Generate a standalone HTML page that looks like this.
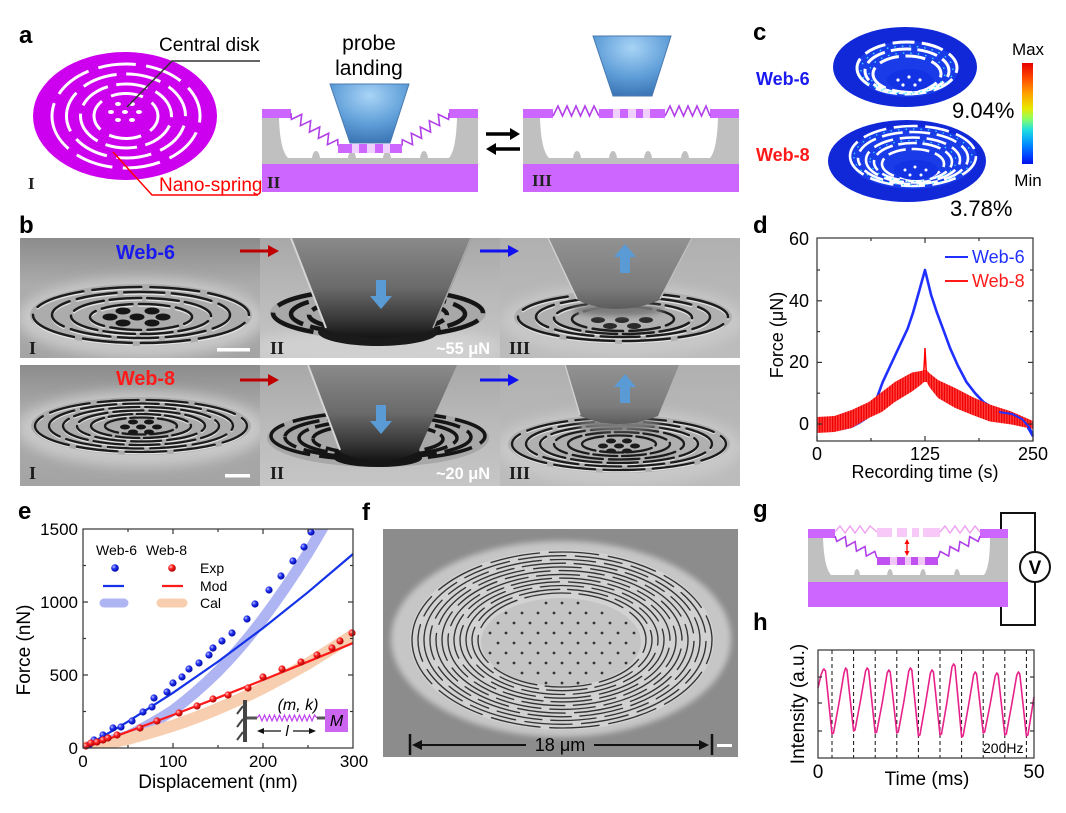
<!DOCTYPE html>
<html><head><meta charset="utf-8">
<style>
html,body{margin:0;padding:0;background:#fff;}
svg{display:block;}
text{font-family:"Liberation Sans",Arial,sans-serif;}
.lbl{font-weight:bold;font-size:24px;fill:#000;}
.ser{font-family:"Liberation Serif","Times New Roman",serif;font-weight:bold;}
</style></head><body>
<svg width="1066" height="813" viewBox="0 0 1066 813" xmlns="http://www.w3.org/2000/svg">
<defs>
 <radialGradient id="pg" cx="0.5" cy="0.2" r="0.8">
  <stop offset="0" stop-color="#a8d4f6"/><stop offset="0.6" stop-color="#5f9ed8"/><stop offset="1" stop-color="#3c76b6"/>
 </radialGradient>
 <linearGradient id="jet" x1="0" y1="0" x2="0" y2="1">
  <stop offset="0" stop-color="#e80000"/><stop offset="0.15" stop-color="#ff4a00"/><stop offset="0.3" stop-color="#ffa000"/>
  <stop offset="0.45" stop-color="#e8e800"/><stop offset="0.55" stop-color="#90ff60"/><stop offset="0.66" stop-color="#20e0e0"/>
  <stop offset="0.8" stop-color="#0090ff"/><stop offset="0.92" stop-color="#0040ff"/><stop offset="1" stop-color="#0010e8"/>
 </linearGradient>
 <linearGradient id="semA" x1="0" y1="0" x2="0" y2="1">
  <stop offset="0" stop-color="#8c8c8c"/><stop offset="0.4" stop-color="#acacac"/><stop offset="1" stop-color="#a4a4a4"/>
 </linearGradient>
 <linearGradient id="semB" x1="0" y1="0" x2="0" y2="1">
  <stop offset="0" stop-color="#a8a8a8"/><stop offset="0.5" stop-color="#bababa"/><stop offset="1" stop-color="#c6c6c6"/>
 </linearGradient>
 <linearGradient id="semC" x1="0" y1="0" x2="0" y2="1">
  <stop offset="0" stop-color="#b0b0b0"/><stop offset="0.5" stop-color="#b8b8b8"/><stop offset="1" stop-color="#bcbcbc"/>
 </linearGradient>
 <linearGradient id="prD" x1="0" y1="0" x2="0" y2="1">
  <stop offset="0" stop-color="#8a8a8a"/><stop offset="0.5" stop-color="#6a6a6a"/><stop offset="0.8" stop-color="#3a3a3a"/><stop offset="1" stop-color="#141414"/>
 </linearGradient>
 <linearGradient id="prL" x1="0" y1="0" x2="0" y2="1">
  <stop offset="0" stop-color="#929292"/><stop offset="0.7" stop-color="#7c7c7c"/><stop offset="1" stop-color="#5c5c5c"/>
 </linearGradient>
 <radialGradient id="bb" cx="0.35" cy="0.35" r="0.7">
  <stop offset="0" stop-color="#c8c8ff"/><stop offset="0.4" stop-color="#2030f0"/><stop offset="1" stop-color="#0008a0"/>
 </radialGradient>
 <radialGradient id="rb" cx="0.35" cy="0.35" r="0.7">
  <stop offset="0" stop-color="#ffd0d0"/><stop offset="0.4" stop-color="#ff2020"/><stop offset="1" stop-color="#a00000"/>
 </radialGradient>
 <pattern id="rn" width="2.6" height="4" patternUnits="userSpaceOnUse">
  <rect width="2.6" height="4" fill="#ff4040"/><rect width="1.3" height="4" fill="#ee0000"/>
 </pattern>
 <filter id="bl3" x="-20%" y="-50%" width="140%" height="200%"><feGaussianBlur stdDeviation="3"/></filter>
 <filter id="bl6" x="-20%" y="-50%" width="140%" height="200%"><feGaussianBlur stdDeviation="6"/></filter>
 <clipPath id="cb1"><rect x="20" y="238" width="240" height="120"/></clipPath>
 <clipPath id="cb2"><rect x="260" y="238" width="240" height="120"/></clipPath>
 <clipPath id="cb3"><rect x="500" y="238" width="240" height="120"/></clipPath>
 <clipPath id="cb4"><rect x="20" y="365" width="240" height="121"/></clipPath>
 <clipPath id="cb5"><rect x="260" y="365" width="240" height="121"/></clipPath>
 <clipPath id="cb6"><rect x="500" y="365" width="240" height="121"/></clipPath>
 <clipPath id="cf"><rect x="383" y="529" width="355" height="228"/></clipPath>
 <clipPath id="ce"><rect x="83" y="529" width="270" height="219"/></clipPath>
</defs>

<!-- ===== Panel a ===== -->
<text x="19" y="43" class="lbl">a</text>
<ellipse cx="125" cy="116" rx="92" ry="64" fill="#cc00ee"/>
<g fill="none" stroke="#fff" stroke-width="3">
 <path pathLength="100" stroke-dasharray="9.5 2.6" d="M52,116a74,52 0 1 0 148,0a74,52 0 1 0 -148,0"/>
 <path pathLength="100" stroke-dasharray="11 3" stroke-dashoffset="6" d="M66.5,116a59.5,42 0 1 0 119,0a59.5,42 0 1 0 -119,0"/>
 <path pathLength="100" stroke-dasharray="13 3.5" d="M80.5,116a45.5,32 0 1 0 91,0a45.5,32 0 1 0 -91,0"/>
 <path pathLength="100" stroke-dasharray="19 6" stroke-dashoffset="10" d="M94,116a32,22.5 0 1 0 64,0a32,22.5 0 1 0 -64,0"/>
</g>
<g fill="#fff">
 <ellipse cx="111" cy="112" rx="3" ry="2"/><ellipse cx="125" cy="112" rx="3" ry="2"/><ellipse cx="139" cy="112" rx="3" ry="2"/>
 <ellipse cx="118" cy="120" rx="3" ry="2"/><ellipse cx="132" cy="120" rx="3" ry="2"/>
 <ellipse cx="118" cy="104" rx="3" ry="2"/><ellipse cx="132" cy="104" rx="3" ry="2"/>
</g>
<polyline points="260,61 172,61 127,107" fill="none" stroke="#333" stroke-width="1.5"/>
<text x="159" y="51" font-size="19">Central disk</text>
<polyline points="113,152 152,195 258,195" fill="none" stroke="#ff0000" stroke-width="1.5"/>
<text x="159" y="191" font-size="19" fill="#ff0000">Nano-spring</text>
<text x="28" y="189" class="ser" font-size="17" fill="#222">I</text>

<!-- box II -->
<rect x="262" y="118" width="216" height="46" fill="#c0c0c0"/>
<path d="M279,118 Q280,150 288,158 L449,158 Q456,150 457,118 Z" fill="#fff"/>
<g fill="#c0c0c0">
 <path d="M312,158 Q313,151 316,151 Q319,151 320,158Z"/><path d="M348,158 Q349,151 352,151 Q355,151 356,158Z"/>
 <path d="M383,158 Q384,151 387,151 Q390,151 391,158Z"/><path d="M420,158 Q421,151 424,151 Q427,151 428,158Z"/>
</g>
<rect x="262" y="164" width="216" height="28" fill="#cc66ff"/>
<rect x="262" y="109" width="29" height="9" fill="#cc66ff"/>
<rect x="449" y="109" width="29" height="9" fill="#cc66ff"/>
<polyline points="291,113 291.4,119.4 301.7,114.4 300.4,125.7 310.7,120.7 309.4,132.1 319.7,127 318.4,138.4 328.7,133.3 327.4,144.7 337.7,139.7 338,146" fill="none" stroke="#b040e8" stroke-width="1.6"/>
<polyline points="449,113 448.6,119.4 438.3,114.4 439.6,125.7 429.3,120.7 430.6,132.1 420.3,127 421.6,138.4 411.3,133.3 412.6,144.7 402.3,139.7 402,146" fill="none" stroke="#b040e8" stroke-width="1.6"/>
<rect x="338" y="144" width="64" height="9" fill="#cc66ff"/>
<g fill="#f0d0ff"><rect x="352" y="144" width="7" height="9"/><rect x="367" y="144" width="8" height="9"/><rect x="383" y="144" width="7" height="9"/></g>
<polygon points="330,84 409,84 390,143 350,143" fill="url(#pg)" stroke="#4a7ab0" stroke-width="1"/>
<text x="369" y="50" font-size="21" text-anchor="middle">probe</text>
<text x="369" y="75" font-size="21" text-anchor="middle">landing</text>
<text x="267" y="188" class="ser" font-size="17" fill="#222">II</text>

<!-- arrows -->
<line x1="486" y1="134" x2="512" y2="134" stroke="#000" stroke-width="3.5"/>
<polygon points="520,134 510,128 510,140" fill="#000"/>
<line x1="494" y1="149" x2="520" y2="149" stroke="#000" stroke-width="3.5"/>
<polygon points="486,149 496,143 496,155" fill="#000"/>

<!-- box III -->
<rect x="523" y="118" width="216" height="46" fill="#c0c0c0"/>
<path d="M540,118 Q541,150 549,158 L710,158 Q717,150 718,118 Z" fill="#fff"/>
<g fill="#c0c0c0">
 <path d="M573,158 Q574,151 577,151 Q580,151 581,158Z"/><path d="M609,158 Q610,151 613,151 Q616,151 617,158Z"/>
 <path d="M644,158 Q645,151 648,151 Q651,151 652,158Z"/><path d="M681,158 Q682,151 685,151 Q688,151 689,158Z"/>
</g>
<rect x="523" y="164" width="216" height="28" fill="#cc66ff"/>
<rect x="523" y="109" width="30" height="9" fill="#cc66ff"/>
<rect x="710" y="109" width="29" height="9" fill="#cc66ff"/>
<polyline points="553,116 558,106 562.5,116 567,106 571.5,116 576,106 580.5,116 585,106 589.5,116 594,106 599,116" fill="none" stroke="#b040e8" stroke-width="1.6"/>
<polyline points="665,116 670,106 674.5,116 679,106 683.5,116 688,106 692.5,116 697,106 701.5,116 706,106 710,116" fill="none" stroke="#b040e8" stroke-width="1.6"/>
<rect x="599" y="109" width="66" height="9" fill="#cc66ff"/>
<g fill="#f0d0ff"><rect x="613" y="109" width="7" height="9"/><rect x="628" y="109" width="8" height="9"/><rect x="643" y="109" width="7" height="9"/></g>
<polygon points="593,36 671,36 652,96 613,96" fill="url(#pg)" stroke="#4a7ab0" stroke-width="1"/>
<text x="532" y="186" class="ser" font-size="17" fill="#222">III</text>

<!-- ===== Panel b ===== -->
<text x="19" y="233" class="lbl">b</text>
<!-- col I top -->
<g clip-path="url(#cb1)">
 <rect x="20" y="238" width="240" height="120" fill="url(#semA)"/>
 <ellipse cx="141" cy="318" rx="124" ry="40" fill="#c8c8c8" filter="url(#bl6)"/>
 <ellipse cx="141" cy="315" rx="111" ry="31" fill="#acacac"/>
 <g fill="none" stroke-linecap="round">
  <g stroke="#e2e2e2" stroke-width="1.8" transform="translate(0,1.8)">
   <path pathLength="100" stroke-dasharray="10.5 2" d="M33,315a108,28 0 1 0 216,0a108,28 0 1 0 -216,0"/>
   <path pathLength="100" stroke-dasharray="10.5 2" stroke-dashoffset="6" d="M52,315a89,23 0 1 0 178,0a89,23 0 1 0 -178,0"/>
   <path pathLength="100" stroke-dasharray="10.5 2" d="M71,316a70,18 0 1 0 140,0a70,18 0 1 0 -140,0"/>
   <path pathLength="100" stroke-dasharray="14 3" stroke-dashoffset="6" d="M90,317a51,13 0 1 0 102,0a51,13 0 1 0 -102,0"/>
  </g>
  <g stroke="#1c1c1c" stroke-width="2.5">
   <path pathLength="100" stroke-dasharray="10.5 2" d="M33,315a108,28 0 1 0 216,0a108,28 0 1 0 -216,0"/>
   <path pathLength="100" stroke-dasharray="10.5 2" stroke-dashoffset="6" d="M52,315a89,23 0 1 0 178,0a89,23 0 1 0 -178,0"/>
   <path pathLength="100" stroke-dasharray="10.5 2" d="M71,316a70,18 0 1 0 140,0a70,18 0 1 0 -140,0"/>
   <path pathLength="100" stroke-dasharray="14 3" stroke-dashoffset="6" d="M90,317a51,13 0 1 0 102,0a51,13 0 1 0 -102,0"/>
  </g>
 </g>
 <g fill="#161616">
  <ellipse cx="137" cy="317" rx="7.5" ry="3.5"/><ellipse cx="110" cy="317" rx="7.5" ry="3.5"/><ellipse cx="163" cy="317" rx="7.5" ry="3.5"/>
  <ellipse cx="123" cy="311" rx="7.5" ry="3.5"/><ellipse cx="152" cy="311" rx="7.5" ry="3.5"/><ellipse cx="123" cy="323" rx="7.5" ry="3.5"/><ellipse cx="152" cy="323" rx="7.5" ry="3.5"/>
 </g>
</g>
<!-- col II top -->
<g clip-path="url(#cb2)">
 <rect x="260" y="238" width="240" height="120" fill="url(#semB)"/>
 <ellipse cx="378" cy="348" rx="125" ry="20" fill="#d0d0d0" filter="url(#bl6)"/>
 <ellipse cx="378" cy="313" rx="108" ry="27" fill="#a8a8a8"/>
 <g fill="none" stroke="#151515" stroke-width="4.5">
  <path pathLength="100" stroke-dasharray="10.5 2" d="M273,313a105,24 0 1 0 210,0a105,24 0 1 0 -210,0"/>
  <path pathLength="100" stroke-dasharray="10.5 2" stroke-dashoffset="6" d="M291,314a87,20 0 1 0 174,0a87,20 0 1 0 -174,0"/>
  <path pathLength="100" stroke-dasharray="10.5 2" d="M309,315a69,16 0 1 0 138,0a69,16 0 1 0 -138,0"/>
 </g>
 <ellipse cx="378" cy="332" rx="60" ry="14" fill="#1a1a1a"/>
 <path d="M290,238 L472,238 L433,330 Q380,346 326,330 Z" fill="url(#prD)"/>
 <line x1="291" y1="238" x2="326" y2="328" stroke="#d4d4d4" stroke-width="2"/>
 <line x1="471" y1="238" x2="433" y2="328" stroke="#a8a8a8" stroke-width="1.5"/>
</g>
<!-- col III top -->
<g clip-path="url(#cb3)">
 <rect x="500" y="238" width="240" height="120" fill="url(#semC)"/>
 <ellipse cx="623" cy="321" rx="122" ry="36" fill="#c8c8c8" filter="url(#bl6)"/>
 <ellipse cx="623" cy="317" rx="109" ry="27" fill="#b0b0b0"/>
 <g fill="none" stroke-linecap="round">
  <g stroke="#e2e2e2" stroke-width="1.8" transform="translate(0,1.8)">
   <path pathLength="100" stroke-dasharray="10.5 2" d="M518,317a105,24 0 1 0 210,0a105,24 0 1 0 -210,0"/>
   <path pathLength="100" stroke-dasharray="10.5 2" stroke-dashoffset="6" d="M536,317a87,20 0 1 0 174,0a87,20 0 1 0 -174,0"/>
   <path pathLength="100" stroke-dasharray="10.5 2" d="M554,318a69,16 0 1 0 138,0a69,16 0 1 0 -138,0"/>
  </g>
  <g stroke="#1c1c1c" stroke-width="2.5">
   <path pathLength="100" stroke-dasharray="10.5 2" d="M518,317a105,24 0 1 0 210,0a105,24 0 1 0 -210,0"/>
   <path pathLength="100" stroke-dasharray="10.5 2" stroke-dashoffset="6" d="M536,317a87,20 0 1 0 174,0a87,20 0 1 0 -174,0"/>
   <path pathLength="100" stroke-dasharray="10.5 2" d="M554,318a69,16 0 1 0 138,0a69,16 0 1 0 -138,0"/>
   <path pathLength="100" stroke-dasharray="14 3" stroke-dashoffset="6" d="M572,319a51,12 0 1 0 102,0a51,12 0 1 0 -102,0"/>
  </g>
 </g>
 <g fill="#2a2a2a">
  <ellipse cx="622" cy="320" rx="7" ry="3"/><ellipse cx="598" cy="320" rx="7" ry="3"/><ellipse cx="646" cy="320" rx="7" ry="3"/>
  <ellipse cx="610" cy="326" rx="7" ry="3"/><ellipse cx="634" cy="326" rx="7" ry="3"/>
 </g>
 <ellipse cx="618" cy="310" rx="46" ry="6" fill="#7a7a7a" filter="url(#bl3)"/>
 <path d="M547,238 L693,238 L660,300 Q617,318 577,300 Z" fill="url(#prL)"/>
 <line x1="548" y1="238" x2="577" y2="299" stroke="#d0d0d0" stroke-width="1.5"/>
 <line x1="692" y1="238" x2="660" y2="299" stroke="#c0c0c0" stroke-width="1.5"/>
</g>
<!-- col I bottom -->
<g clip-path="url(#cb4)">
 <rect x="20" y="365" width="240" height="121" fill="url(#semA)"/>
 <ellipse cx="141" cy="429" rx="124" ry="38" fill="#c8c8c8" filter="url(#bl6)"/>
 <ellipse cx="141" cy="426" rx="110" ry="29" fill="#acacac"/>
 <g fill="none" stroke-linecap="round">
  <g stroke="#e2e2e2" stroke-width="1.6" transform="translate(0,1.6)">
   <path pathLength="100" stroke-dasharray="9 1.8" d="M35,426a106,26 0 1 0 212,0a106,26 0 1 0 -212,0"/>
   <path pathLength="100" stroke-dasharray="9 1.8" stroke-dashoffset="5" d="M49,426a92,22.5 0 1 0 184,0a92,22.5 0 1 0 -184,0"/>
   <path pathLength="100" stroke-dasharray="9 1.8" d="M63,426a78,19 0 1 0 156,0a78,19 0 1 0 -156,0"/>
   <path pathLength="100" stroke-dasharray="11 2.2" stroke-dashoffset="5" d="M77,426a64,15.5 0 1 0 128,0a64,15.5 0 1 0 -128,0"/>
   <path pathLength="100" stroke-dasharray="11 2.2" d="M91,426a50,12 0 1 0 100,0a50,12 0 1 0 -100,0"/>
  </g>
  <g stroke="#1c1c1c" stroke-width="2.3">
   <path pathLength="100" stroke-dasharray="9 1.8" d="M35,426a106,26 0 1 0 212,0a106,26 0 1 0 -212,0"/>
   <path pathLength="100" stroke-dasharray="9 1.8" stroke-dashoffset="5" d="M49,426a92,22.5 0 1 0 184,0a92,22.5 0 1 0 -184,0"/>
   <path pathLength="100" stroke-dasharray="9 1.8" d="M63,426a78,19 0 1 0 156,0a78,19 0 1 0 -156,0"/>
   <path pathLength="100" stroke-dasharray="11 2.2" stroke-dashoffset="5" d="M77,426a64,15.5 0 1 0 128,0a64,15.5 0 1 0 -128,0"/>
   <path pathLength="100" stroke-dasharray="11 2.2" d="M91,426a50,12 0 1 0 100,0a50,12 0 1 0 -100,0"/>
   <path pathLength="100" stroke-dasharray="15 3" stroke-dashoffset="5" d="M105,426a36,8.5 0 1 0 72,0a36,8.5 0 1 0 -72,0"/>
  </g>
 </g>
 <g fill="#161616">
  <ellipse cx="141" cy="427" rx="5" ry="2.5"/><ellipse cx="125" cy="427" rx="5" ry="2.5"/><ellipse cx="157" cy="427" rx="5" ry="2.5"/>
  <ellipse cx="133" cy="422" rx="5" ry="2.5"/><ellipse cx="149" cy="422" rx="5" ry="2.5"/><ellipse cx="133" cy="432" rx="5" ry="2.5"/><ellipse cx="149" cy="432" rx="5" ry="2.5"/>
 </g>
</g>
<!-- col II bottom -->
<g clip-path="url(#cb5)">
 <rect x="260" y="365" width="240" height="121" fill="url(#semB)"/>
 <ellipse cx="378" cy="438" rx="111" ry="29" fill="#a8a8a8"/>
 <g fill="none" stroke="#151515" stroke-width="3.5">
  <path pathLength="100" stroke-dasharray="10 2" d="M271,436a107,24 0 1 0 214,0a107,24 0 1 0 -214,0"/>
  <path pathLength="100" stroke-dasharray="10 2" stroke-dashoffset="6" d="M285,437a93,21 0 1 0 186,0a93,21 0 1 0 -186,0"/>
  <path pathLength="100" stroke-dasharray="10 2" d="M299,438a79,18 0 1 0 158,0a79,18 0 1 0 -158,0"/>
  <path pathLength="100" stroke-dasharray="10 2" stroke-dashoffset="6" d="M313,439a65,15 0 1 0 130,0a65,15 0 1 0 -130,0"/>
 </g>
 <ellipse cx="378" cy="458" rx="44" ry="9" fill="#151515"/>
 <path d="M307,365 L457,365 L418,452 Q378,470 340,452 Z" fill="url(#prD)"/>
 <line x1="308" y1="365" x2="340" y2="450" stroke="#d4d4d4" stroke-width="2"/>
</g>
<!-- col III bottom -->
<g clip-path="url(#cb6)">
 <rect x="500" y="365" width="240" height="121" fill="url(#semC)"/>
 <ellipse cx="619" cy="448" rx="124" ry="38" fill="#c8c8c8" filter="url(#bl6)"/>
 <ellipse cx="619" cy="444" rx="111" ry="29" fill="#b0b0b0"/>
 <g fill="none" stroke-linecap="round">
  <g stroke="#e2e2e2" stroke-width="1.6" transform="translate(0,1.6)">
   <path pathLength="100" stroke-dasharray="9 1.8" d="M512,444a107,26 0 1 0 214,0a107,26 0 1 0 -214,0"/>
   <path pathLength="100" stroke-dasharray="9 1.8" stroke-dashoffset="5" d="M526,444a93,22.5 0 1 0 186,0a93,22.5 0 1 0 -186,0"/>
   <path pathLength="100" stroke-dasharray="9 1.8" d="M540,444a79,19 0 1 0 158,0a79,19 0 1 0 -158,0"/>
  </g>
  <g stroke="#1c1c1c" stroke-width="2.3">
   <path pathLength="100" stroke-dasharray="9 1.8" d="M512,444a107,26 0 1 0 214,0a107,26 0 1 0 -214,0"/>
   <path pathLength="100" stroke-dasharray="9 1.8" stroke-dashoffset="5" d="M526,444a93,22.5 0 1 0 186,0a93,22.5 0 1 0 -186,0"/>
   <path pathLength="100" stroke-dasharray="9 1.8" d="M540,444a79,19 0 1 0 158,0a79,19 0 1 0 -158,0"/>
   <path pathLength="100" stroke-dasharray="11 2.2" stroke-dashoffset="5" d="M554,444a65,15.5 0 1 0 130,0a65,15.5 0 1 0 -130,0"/>
   <path pathLength="100" stroke-dasharray="11 2.2" d="M568,444a51,12 0 1 0 102,0a51,12 0 1 0 -102,0"/>
   <path pathLength="100" stroke-dasharray="15 3" stroke-dashoffset="5" d="M582,444a37,8.5 0 1 0 74,0a37,8.5 0 1 0 -74,0"/>
  </g>
 </g>
 <g fill="#1c1c1c">
  <ellipse cx="619" cy="446" rx="5" ry="2.5"/><ellipse cx="603" cy="446" rx="5" ry="2.5"/><ellipse cx="635" cy="446" rx="5" ry="2.5"/>
  <ellipse cx="611" cy="441" rx="5" ry="2.5"/><ellipse cx="627" cy="441" rx="5" ry="2.5"/><ellipse cx="611" cy="451" rx="5" ry="2.5"/><ellipse cx="627" cy="451" rx="5" ry="2.5"/>
 </g>
 <ellipse cx="619" cy="425" rx="42" ry="6" fill="#7a7a7a" filter="url(#bl3)"/>
 <path d="M564,365 L679,365 L658,416 Q619,432 580,416 Z" fill="url(#prL)"/>
 <line x1="565" y1="365" x2="580" y2="415" stroke="#d0d0d0" stroke-width="1.5"/>
</g>
<!-- b overlays -->
<text x="116" y="259" font-size="20" font-weight="bold" fill="#1a1af0" textLength="59" lengthAdjust="spacingAndGlyphs">Web-6</text>
<text x="116" y="385" font-size="20" font-weight="bold" fill="#ff1a1a" textLength="59" lengthAdjust="spacingAndGlyphs">Web-8</text>
<g stroke-width="3">
 <line x1="240" y1="251" x2="270" y2="251" stroke="#c00000"/><polygon points="279,251 268,245 268,257" fill="#c00000"/>
 <line x1="240" y1="380" x2="270" y2="380" stroke="#c00000"/><polygon points="279,380 268,374 268,386" fill="#c00000"/>
 <line x1="480" y1="251" x2="510" y2="251" stroke="#1010f0"/><polygon points="519,251 508,245 508,257" fill="#1010f0"/>
 <line x1="480" y1="380" x2="510" y2="380" stroke="#1010f0"/><polygon points="519,380 508,374 508,386" fill="#1010f0"/>
</g>
<g fill="#5b9bd5">
 <polygon points="376,280 386,280 386,296 392,296 381,309 370,296 376,296"/>
 <polygon points="376,405 386,405 386,421 392,421 381,434 370,421 376,421"/>
 <polygon points="620,273 630,273 630,257 636,257 625,244 614,257 620,257"/>
 <polygon points="620,403 630,403 630,387 636,387 625,374 614,387 620,387"/>
</g>
<text x="29" y="354" class="ser" font-size="18" fill="#1a1a1a">I</text>
<text x="270" y="354" class="ser" font-size="18" fill="#1a1a1a">II</text>
<text x="509" y="354" class="ser" font-size="18" fill="#1a1a1a">III</text>
<text x="29" y="479" class="ser" font-size="18" fill="#1a1a1a">I</text>
<text x="270" y="479" class="ser" font-size="18" fill="#1a1a1a">II</text>
<text x="509" y="479" class="ser" font-size="18" fill="#1a1a1a">III</text>
<text x="436" y="354" font-size="17" font-weight="bold" fill="#fff" textLength="54" lengthAdjust="spacingAndGlyphs">~55 μN</text>
<text x="436" y="479" font-size="17" font-weight="bold" fill="#fff" textLength="54" lengthAdjust="spacingAndGlyphs">~20 μN</text>
<rect x="217" y="348" width="33" height="3.5" fill="#fff"/>
<rect x="225" y="474" width="25" height="3.5" fill="#fff"/>

<!-- ===== Panel c ===== -->
<text x="753" y="40" class="lbl">c</text>
<text x="756" y="85" font-size="18" font-weight="bold" fill="#1a1af0">Web-6</text>
<text x="756" y="161" font-size="18" font-weight="bold" fill="#ff1a1a">Web-8</text>
<ellipse cx="905" cy="67" rx="72" ry="40" fill="#1028d8"/>
<ellipse cx="907" cy="69" rx="51" ry="28" fill="#1a3ce8"/>
<g fill="none" stroke="#fff" stroke-width="3">
 <path pathLength="100" stroke-dasharray="9 3" d="M857,68a50,26 0 1 0 100,0a50,26 0 1 0 -100,0"/>
 <path pathLength="100" stroke-dasharray="10 3" stroke-dashoffset="5" d="M865,71a42,22 0 1 0 84,0a42,22 0 1 0 -84,0"/>
 <path pathLength="100" stroke-dasharray="12 4" d="M873,74a34,18 0 1 0 68,0a34,18 0 1 0 -68,0"/>
</g>
<g fill="none" stroke="#40e0ff" stroke-width="1.3" stroke-dasharray="1.5 6">
 <path d="M861,70a46,24 0 1 0 92,0a46,24 0 1 0 -92,0"/>
 <path d="M869,73a38,20 0 1 0 76,0a38,20 0 1 0 -76,0"/>
</g>
<ellipse cx="910" cy="80" rx="23" ry="11" fill="#1232e4"/>
<g fill="#fff"><circle cx="898" cy="80" r="1.6"/><circle cx="909" cy="77" r="1.6"/><circle cx="920" cy="80" r="1.6"/><circle cx="903" cy="85" r="1.6"/><circle cx="915" cy="85" r="1.6"/></g>
<ellipse cx="907" cy="161" rx="79" ry="41" fill="#1028d8"/>
<ellipse cx="913" cy="158" rx="64" ry="31" fill="#1a3ce8"/>
<g fill="none" stroke="#fff" stroke-width="2.6">
 <path pathLength="100" stroke-dasharray="8 2.5" d="M850,156a63,30 0 1 0 126,0a63,30 0 1 0 -126,0"/>
 <path pathLength="100" stroke-dasharray="8 2.5" stroke-dashoffset="5" d="M858,158a55,26 0 1 0 110,0a55,26 0 1 0 -110,0"/>
 <path pathLength="100" stroke-dasharray="9 3" d="M866,160a47,22.5 0 1 0 94,0a47,22.5 0 1 0 -94,0"/>
 <path pathLength="100" stroke-dasharray="10 3" stroke-dashoffset="5" d="M874,162a39,19 0 1 0 78,0a39,19 0 1 0 -78,0"/>
 <path pathLength="100" stroke-dasharray="12 4" d="M882,164a31,15 0 1 0 62,0a31,15 0 1 0 -62,0"/>
</g>
<g fill="none" stroke="#40e0ff" stroke-width="1.2" stroke-dasharray="1.5 6">
 <path d="M854,157a59,28 0 1 0 118,0a59,28 0 1 0 -118,0"/>
 <path d="M870,161a43,20.5 0 1 0 86,0a43,20.5 0 1 0 -86,0"/>
</g>
<ellipse cx="916" cy="170" rx="22" ry="10" fill="#1232e4"/>
<g fill="#fff"><circle cx="905" cy="170" r="1.5"/><circle cx="915" cy="167" r="1.5"/><circle cx="926" cy="170" r="1.5"/><circle cx="910" cy="175" r="1.5"/><circle cx="921" cy="175" r="1.5"/></g>
<rect x="1022" y="63" width="11" height="101" fill="url(#jet)"/>
<text x="1028" y="55" font-size="17" text-anchor="middle">Max</text>
<text x="1028" y="186" font-size="17" text-anchor="middle">Min</text>
<text x="952" y="118" font-size="22">9.04%</text>
<text x="950" y="216" font-size="22">3.78%</text>

<!-- ===== Panel d ===== -->
<text x="753" y="233" class="lbl">d</text>
<path d="M817,418 L830,419 L843,416 L852,414 L860,412 L869,405 L869,418 L860,424 L852,428 L843,430 L830,431 L817,432 Z" fill="#3040ff" opacity="0.8"/>
<path d="M817,424 L825.6,422.5 L834.3,423 L842.9,421.5 L851.6,420.3 L860.2,417.8 L868.8,411.7 L872.3,407 L877.5,396.3 L882.7,382.1 L890.4,365.5 L899.9,345.2 L907.7,328.5 L912.9,313.1 L919,291.6 L925,270 L931,294.6 L937.1,313.1 L944,331.6 L950.1,348.2 L957.8,365.5 L966.5,382.1 L975.1,393.2 L983.8,402.4 L994.1,408.6 L1007.1,413.2 L1017.4,419.4 L1025.2,422.5 L1029.5,430.2 L1033,436.3" fill="none" stroke="#2030ff" stroke-width="2.6" stroke-linejoin="round"/>
<polygon points="817,417 834.3,416 851.6,410 868.8,402 881.8,392 894.8,382 912,372.5 920.7,371 924.1,370 926.7,370 929.3,373 938,380 955.2,388 972.5,397 989.8,404.5 1011.4,411.5 1033,421 1033,429 1011.4,424.5 989.8,421.5 972.5,415 955.2,408 938,398 929.3,387 926.7,382 924.1,382 920.7,385 912,391.5 894.8,402 881.8,412 868.8,418 851.6,428 834.3,432 817,433" fill="url(#rn)"/>
<path d="M999,412 L1012,414 L1022,419 L1029,427 L1033,434" fill="none" stroke="#2030ff" stroke-width="2"/>
<polyline points="923.5,376 924.6,358 925,348 925.6,360 926.5,376" fill="none" stroke="#ff0000" stroke-width="1.5"/>
<rect x="817" y="238" width="216" height="203" fill="none" stroke="#333" stroke-width="1.2"/>
<g stroke="#333" stroke-width="1.2">
 <line x1="817" y1="441" x2="817" y2="436"/><line x1="925" y1="441" x2="925" y2="436"/><line x1="1033" y1="441" x2="1033" y2="436"/>
 <line x1="871" y1="441" x2="871" y2="438"/><line x1="979" y1="441" x2="979" y2="438"/>
 <line x1="925" y1="238" x2="925" y2="243"/><line x1="871" y1="238" x2="871" y2="241"/><line x1="979" y1="238" x2="979" y2="241"/>
 <line x1="817" y1="424" x2="822" y2="424"/><line x1="817" y1="362.4" x2="822" y2="362.4"/><line x1="817" y1="300.8" x2="822" y2="300.8"/>
 <line x1="817" y1="393.2" x2="820" y2="393.2"/><line x1="817" y1="331.6" x2="820" y2="331.6"/><line x1="817" y1="270" x2="820" y2="270"/>
 <line x1="1033" y1="424" x2="1028" y2="424"/><line x1="1033" y1="362.4" x2="1028" y2="362.4"/><line x1="1033" y1="300.8" x2="1028" y2="300.8"/>
 <line x1="1033" y1="393.2" x2="1030" y2="393.2"/><line x1="1033" y1="331.6" x2="1030" y2="331.6"/><line x1="1033" y1="270" x2="1030" y2="270"/>
</g>
<g font-size="18">
 <text x="817" y="460" text-anchor="middle">0</text><text x="925" y="460" text-anchor="middle">125</text><text x="1033" y="460" text-anchor="middle">250</text>
 <text x="809" y="245" text-anchor="end">60</text><text x="809" y="307" text-anchor="end">40</text><text x="809" y="368" text-anchor="end">20</text><text x="809" y="430" text-anchor="end">0</text>
</g>
<text x="925" y="478" font-size="18" text-anchor="middle">Recording time (s)</text>
<text transform="translate(783,335) rotate(-90)" font-size="18" text-anchor="middle">Force (μN)</text>
<line x1="945" y1="257" x2="968" y2="257" stroke="#2030ff" stroke-width="2"/>
<text x="972" y="263" font-size="18" fill="#2030ff">Web-6</text>
<line x1="945" y1="281" x2="968" y2="281" stroke="#ff1a1a" stroke-width="2"/>
<text x="972" y="287" font-size="18" fill="#ff1a1a">Web-8</text>

<!-- ===== Panel e ===== -->
<text x="18" y="519" class="lbl">e</text>
<g clip-path="url(#ce)" fill="none" stroke-linecap="round">
 <path d="M83,748 Q105,742 128,736 Q150,725 173,710.4 Q196,693 218,671.3 Q241,648 263,618.8 Q286,588 308,552.8 Q320,533 333,510" stroke="#afb4f3" stroke-width="11"/>
 <path d="M83,748 Q105,744 128,738.8 Q150,733 173,725.7 Q196,718 218,708.7 Q241,699 263,688 Q286,676 308,663.5 Q330,650 353,635" stroke="#f7cfb0" stroke-width="12"/>
 <path d="M85,747 L128,721.6 L173,692.8 L218,661.6 L263,628.1 L308,592.2 L353,554" stroke="#1432e6" stroke-width="2.2"/>
 <path d="M84,748 L128,731.7 L173,715 L218,697.7 L263,680 L308,661.7 L353,643" stroke="#ff1a1a" stroke-width="2.2"/>
</g>
<g fill="url(#bb)">
 <circle cx="89" cy="745" r="3.6"/><circle cx="94" cy="740" r="3.6"/><circle cx="103" cy="735" r="3.6"/><circle cx="113" cy="728" r="3.6"/><circle cx="121" cy="727" r="3.6"/>
 <circle cx="132" cy="721" r="3.6"/><circle cx="143" cy="712" r="3.6"/><circle cx="152" cy="707" r="3.6"/><circle cx="154" cy="698" r="3.6"/><circle cx="167" cy="692" r="3.6"/>
 <circle cx="173" cy="683" r="3.6"/><circle cx="182" cy="677" r="3.6"/><circle cx="189" cy="669" r="3.6"/><circle cx="199" cy="663" r="3.6"/><circle cx="209" cy="655" r="3.6"/>
 <circle cx="213" cy="648" r="3.6"/><circle cx="222" cy="641" r="3.6"/><circle cx="232" cy="633" r="3.6"/><circle cx="247" cy="619" r="3.6"/><circle cx="255" cy="604" r="3.6"/>
 <circle cx="269" cy="590" r="3.6"/><circle cx="281" cy="576" r="3.6"/><circle cx="293" cy="561" r="3.6"/><circle cx="304" cy="547" r="3.6"/><circle cx="311" cy="532" r="3.6"/>
</g>
<g fill="url(#rb)">
 <circle cx="86" cy="746" r="3.6"/><circle cx="91" cy="743" r="3.6"/><circle cx="97" cy="742" r="3.6"/><circle cx="103" cy="740" r="3.6"/><circle cx="108" cy="738" r="3.6"/>
 <circle cx="117" cy="735" r="3.6"/><circle cx="140" cy="728" r="3.6"/><circle cx="157" cy="721" r="3.6"/><circle cx="179" cy="713" r="3.6"/><circle cx="197" cy="706" r="3.6"/>
 <circle cx="213" cy="699" r="3.6"/><circle cx="228" cy="695" r="3.6"/><circle cx="248" cy="688" r="3.6"/><circle cx="263" cy="677" r="3.6"/><circle cx="282" cy="669" r="3.6"/>
 <circle cx="301" cy="662" r="3.6"/><circle cx="317" cy="655" r="3.6"/><circle cx="332" cy="648" r="3.6"/><circle cx="340" cy="641" r="3.6"/><circle cx="352" cy="633" r="3.6"/>
</g>
<rect x="83" y="529" width="270" height="219" fill="none" stroke="#333" stroke-width="1.2"/>
<g stroke="#333" stroke-width="1.2">
 <line x1="173" y1="748" x2="173" y2="743"/><line x1="263" y1="748" x2="263" y2="743"/>
 <line x1="128" y1="748" x2="128" y2="745"/><line x1="218" y1="748" x2="218" y2="745"/><line x1="308" y1="748" x2="308" y2="745"/>
 <line x1="173" y1="529" x2="173" y2="534"/><line x1="263" y1="529" x2="263" y2="534"/>
 <line x1="128" y1="529" x2="128" y2="532"/><line x1="218" y1="529" x2="218" y2="532"/><line x1="308" y1="529" x2="308" y2="532"/>
 <line x1="83" y1="675" x2="88" y2="675"/><line x1="83" y1="602" x2="88" y2="602"/>
 <line x1="83" y1="711.5" x2="86" y2="711.5"/><line x1="83" y1="638.5" x2="86" y2="638.5"/><line x1="83" y1="565.5" x2="86" y2="565.5"/>
 <line x1="353" y1="675" x2="348" y2="675"/><line x1="353" y1="602" x2="348" y2="602"/>
 <line x1="353" y1="711.5" x2="350" y2="711.5"/><line x1="353" y1="638.5" x2="350" y2="638.5"/><line x1="353" y1="565.5" x2="350" y2="565.5"/>
</g>
<g font-size="17">
 <text x="78" y="535" text-anchor="end">1500</text><text x="78" y="608" text-anchor="end">1000</text><text x="78" y="681" text-anchor="end">500</text><text x="78" y="754" text-anchor="end">0</text>
 <text x="83" y="767" text-anchor="middle">0</text><text x="173" y="767" text-anchor="middle">100</text><text x="263" y="767" text-anchor="middle">200</text><text x="354" y="767" text-anchor="middle">300</text>
</g>
<text x="218" y="788" font-size="19" text-anchor="middle">Displacement (nm)</text>
<text transform="translate(30,650) rotate(-90)" font-size="19" text-anchor="middle">Force (nN)</text>
<g font-size="14">
 <text x="96" y="555">Web-6</text><text x="146" y="555">Web-8</text>
 <text x="200" y="573">Exp</text><text x="200" y="591">Mod</text><text x="200" y="608">Cal</text>
</g>
<circle cx="115" cy="568" r="3.8" fill="url(#bb)"/><circle cx="172" cy="568" r="3.8" fill="url(#rb)"/>
<line x1="103" y1="586" x2="124" y2="586" stroke="#1432e6" stroke-width="2.2"/>
<line x1="162" y1="586" x2="183" y2="586" stroke="#ff1a1a" stroke-width="2.2"/>
<line x1="104" y1="603" x2="124" y2="603" stroke="#afb4f3" stroke-width="9" stroke-linecap="round"/>
<line x1="161" y1="603" x2="183" y2="603" stroke="#f7cfb0" stroke-width="9" stroke-linecap="round"/>
<!-- inset -->
<line x1="245" y1="700" x2="245" y2="742" stroke="#444" stroke-width="4"/>
<g stroke="#444" stroke-width="2"><line x1="243" y1="706" x2="237" y2="714"/><line x1="243" y1="719" x2="237" y2="727"/><line x1="243" y1="732" x2="237" y2="740"/></g>
<line x1="247" y1="718" x2="257" y2="718" stroke="#555" stroke-width="3"/>
<polyline points="257,718 259.5,715 262,721 264.5,715 267,721 269.5,715 272,721 274.5,715 277,721 279.5,715 282,721 284.5,715 287,721 289.5,715 292,721 294.5,715 297,721 299.5,715 302,721 304.5,715 307,721 309.5,715 312,721 314.5,715 317,718" fill="none" stroke="#c040f0" stroke-width="1.2"/>
<line x1="317" y1="718" x2="325" y2="718" stroke="#555" stroke-width="3"/>
<rect x="325" y="709" width="23" height="23" fill="#cc66f0"/>
<text x="336.5" y="726" font-size="16" font-style="italic" text-anchor="middle" font-family="Liberation Serif, serif">M</text>
<text x="298" y="710" font-size="16" font-style="italic" text-anchor="middle" font-family="Liberation Serif, serif">(m, k)</text>
<line x1="262" y1="731" x2="281" y2="731" stroke="#111" stroke-width="1.3"/><polygon points="257,731 264,728 264,734" fill="#111"/>
<text x="287" y="736" font-size="15" font-style="italic" text-anchor="middle" font-family="Liberation Serif, serif">l</text>
<line x1="293" y1="731" x2="311" y2="731" stroke="#111" stroke-width="1.3"/><polygon points="316,731 309,728 309,734" fill="#111"/>

<!-- ===== Panel f ===== -->
<text x="362" y="520" class="lbl">f</text>
<g clip-path="url(#cf)">
 <rect x="383" y="529" width="355" height="228" fill="#8c8c8c"/>
 <ellipse cx="561" cy="639" rx="170" ry="98" fill="#c6c6c6" filter="url(#bl3)"/>
 <ellipse cx="562" cy="640" rx="152" ry="90" fill="#d2d2d2"/>
 <g fill="none" stroke="#333" stroke-width="1.35" stroke-linecap="round">
  <path pathLength="100" stroke-dasharray="6.5 1.3" d="M412,640a150,88 0 1 0 300,0a150,88 0 1 0 -300,0"/>
  <path pathLength="100" stroke-dasharray="6.5 1.3" stroke-dashoffset="3.5" d="M418,640a144,84.3 0 1 0 288,0a144,84.3 0 1 0 -288,0"/>
  <path pathLength="100" stroke-dasharray="6.5 1.3" d="M424,640a138,80.5 0 1 0 276,0a138,80.5 0 1 0 -276,0"/>
  <path pathLength="100" stroke-dasharray="6.5 1.3" stroke-dashoffset="3.5" d="M430,640a132,76.8 0 1 0 264,0a132,76.8 0 1 0 -264,0"/>
  <path pathLength="100" stroke-dasharray="7.5 1.5" d="M436,640a126,73.1 0 1 0 252,0a126,73.1 0 1 0 -252,0"/>
  <path pathLength="100" stroke-dasharray="7.5 1.5" stroke-dashoffset="4" d="M442,640a120,69.4 0 1 0 240,0a120,69.4 0 1 0 -240,0"/>
  <path pathLength="100" stroke-dasharray="7.5 1.5" d="M448,640a114,65.6 0 1 0 228,0a114,65.6 0 1 0 -228,0"/>
  <path pathLength="100" stroke-dasharray="7.5 1.5" stroke-dashoffset="4" d="M454,640a108,61.9 0 1 0 216,0a108,61.9 0 1 0 -216,0"/>
  <path pathLength="100" stroke-dasharray="9 1.8" d="M460,640a102,58.2 0 1 0 204,0a102,58.2 0 1 0 -204,0"/>
  <path pathLength="100" stroke-dasharray="9 1.8" stroke-dashoffset="5" d="M466,640a96,54.5 0 1 0 192,0a96,54.5 0 1 0 -192,0"/>
  <path pathLength="100" stroke-dasharray="9 1.8" d="M472,640a90,50.7 0 1 0 180,0a90,50.7 0 1 0 -180,0"/>
  <path pathLength="100" stroke-dasharray="11 2" stroke-dashoffset="5" d="M478,640a84,47 0 1 0 168,0a84,47 0 1 0 -168,0"/>
 </g>
 <ellipse cx="561" cy="642" rx="80" ry="44" fill="#c4c4c4"/>
 <g fill="#333">
  <circle cx="546" cy="603" r="1.4"/><circle cx="562" cy="603" r="1.4"/><circle cx="578" cy="603" r="1.4"/>
  <circle cx="506" cy="613" r="1.4"/><circle cx="522" cy="613" r="1.4"/><circle cx="538" cy="613" r="1.4"/><circle cx="554" cy="613" r="1.4"/><circle cx="570" cy="613" r="1.4"/><circle cx="586" cy="613" r="1.4"/><circle cx="602" cy="613" r="1.4"/>
  <circle cx="498" cy="623" r="1.4"/><circle cx="514" cy="623" r="1.4"/><circle cx="530" cy="623" r="1.4"/><circle cx="546" cy="623" r="1.4"/><circle cx="562" cy="623" r="1.4"/><circle cx="578" cy="623" r="1.4"/><circle cx="594" cy="623" r="1.4"/><circle cx="610" cy="623" r="1.4"/><circle cx="626" cy="623" r="1.4"/>
  <circle cx="490" cy="633" r="1.4"/><circle cx="506" cy="633" r="1.4"/><circle cx="522" cy="633" r="1.4"/><circle cx="538" cy="633" r="1.4"/><circle cx="554" cy="633" r="1.4"/><circle cx="570" cy="633" r="1.4"/><circle cx="586" cy="633" r="1.4"/><circle cx="602" cy="633" r="1.4"/><circle cx="618" cy="633" r="1.4"/><circle cx="634" cy="633" r="1.4"/>
  <circle cx="498" cy="643" r="1.4"/><circle cx="514" cy="643" r="1.4"/><circle cx="530" cy="643" r="1.4"/><circle cx="546" cy="643" r="1.4"/><circle cx="562" cy="643" r="1.4"/><circle cx="578" cy="643" r="1.4"/><circle cx="594" cy="643" r="1.4"/><circle cx="610" cy="643" r="1.4"/><circle cx="626" cy="643" r="1.4"/>
  <circle cx="490" cy="653" r="1.4"/><circle cx="506" cy="653" r="1.4"/><circle cx="522" cy="653" r="1.4"/><circle cx="538" cy="653" r="1.4"/><circle cx="554" cy="653" r="1.4"/><circle cx="570" cy="653" r="1.4"/><circle cx="586" cy="653" r="1.4"/><circle cx="602" cy="653" r="1.4"/><circle cx="618" cy="653" r="1.4"/><circle cx="634" cy="653" r="1.4"/>
  <circle cx="498" cy="663" r="1.4"/><circle cx="514" cy="663" r="1.4"/><circle cx="530" cy="663" r="1.4"/><circle cx="546" cy="663" r="1.4"/><circle cx="562" cy="663" r="1.4"/><circle cx="578" cy="663" r="1.4"/><circle cx="594" cy="663" r="1.4"/><circle cx="610" cy="663" r="1.4"/><circle cx="626" cy="663" r="1.4"/>
  <circle cx="522" cy="673" r="1.4"/><circle cx="538" cy="673" r="1.4"/><circle cx="554" cy="673" r="1.4"/><circle cx="570" cy="673" r="1.4"/><circle cx="586" cy="673" r="1.4"/><circle cx="602" cy="673" r="1.4"/>
  <circle cx="546" cy="683" r="1.4"/><circle cx="562" cy="683" r="1.4"/><circle cx="578" cy="683" r="1.4"/>
 </g>
 <line x1="416" y1="745" x2="526" y2="745" stroke="#111" stroke-width="2"/><polygon points="412,745 422,740 422,750" fill="#111"/>
 <line x1="594" y1="745" x2="704" y2="745" stroke="#111" stroke-width="2"/><polygon points="709,745 699,740 699,750" fill="#111"/>
 <line x1="410" y1="734" x2="410" y2="755" stroke="#111" stroke-width="2.5"/>
 <line x1="712" y1="734" x2="712" y2="755" stroke="#111" stroke-width="2.5"/>
 <text x="560" y="751" font-size="18" text-anchor="middle">18 μm</text>
 <rect x="717" y="744" width="15" height="3" fill="#fff"/>
</g>

<!-- ===== Panel g ===== -->
<text x="753" y="517" class="lbl">g</text>
<rect x="808" y="538" width="200" height="44" fill="#c0c0c0"/>
<path d="M823,538 Q824,567 831,575 L984,575 Q990,567 990,538 Z" fill="#fff"/>
<g fill="#c0c0c0">
 <path d="M854,575 Q855,569 857,569 Q859,569 860,575Z"/><path d="M887,575 Q888,569 890,569 Q892,569 893,575Z"/>
 <path d="M920,575 Q921,569 923,569 Q925,569 926,575Z"/><path d="M954,575 Q955,569 957,569 Q959,569 960,575Z"/>
</g>
<rect x="808" y="582" width="200" height="25" fill="#cc66ff"/>
<rect x="808" y="529" width="27" height="9" fill="#cc66ff"/>
<rect x="980" y="529" width="28" height="9" fill="#cc66ff"/>
<polyline points="835,532 840,526 845,533 850,526 855,533 860,526 865,533 870,526 877,532" fill="none" stroke="#f0a0f0" stroke-width="1.4"/>
<polyline points="940,532 945,526 950,533 955,526 960,533 965,526 970,533 975,526 980,532" fill="none" stroke="#f0a0f0" stroke-width="1.4"/>
<g fill="#f8c8f8"><rect x="877" y="528" width="15" height="9"/><rect x="897" y="528" width="10" height="9"/><rect x="912" y="528" width="7" height="9"/><rect x="923" y="528" width="17" height="9"/></g>
<polyline points="835,536 836.8,541.4 845.3,536.7 846.6,546.3 855.1,541.6 856.5,551.2 865,546.5 866.3,556.1 874.8,551.4 877,558" fill="none" stroke="#b040e8" stroke-width="1.6"/>
<polyline points="980,536 978.2,541.4 969.7,536.7 968.4,546.3 959.9,541.6 958.5,551.2 950,546.5 948.7,556.1 940.2,551.4 938,558" fill="none" stroke="#b040e8" stroke-width="1.6"/>
<rect x="877" y="557" width="61" height="8" fill="#c050f0"/>
<g fill="#f0c8f8"><rect x="890" y="557" width="7" height="8"/><rect x="905" y="557" width="6" height="8"/><rect x="918" y="557" width="7" height="8"/></g>
<line x1="907" y1="543" x2="907" y2="553" stroke="#ff0000" stroke-width="1.3"/>
<polygon points="907,539 904.5,544 909.5,544" fill="#ff0000"/><polygon points="907,556 904.5,551 909.5,551" fill="#ff0000"/>
<polyline points="1001,529 1001,513 1035,513 1035,552" fill="none" stroke="#111" stroke-width="2"/>
<polyline points="1035,582 1035,625 1001,625 1001,607" fill="none" stroke="#111" stroke-width="2"/>
<circle cx="1035" cy="567" r="15" fill="#fff" stroke="#111" stroke-width="2"/>
<text x="1035" y="574" font-size="19" font-weight="bold" text-anchor="middle">V</text>

<!-- ===== Panel h ===== -->
<text x="753" y="630" class="lbl">h</text>
<g stroke="#111" stroke-width="1" stroke-dasharray="4 3">
 <line x1="832" y1="650" x2="832" y2="758"/><line x1="853.6" y1="650" x2="853.6" y2="758"/><line x1="875.2" y1="650" x2="875.2" y2="758"/>
 <line x1="896.8" y1="650" x2="896.8" y2="758"/><line x1="918.4" y1="650" x2="918.4" y2="758"/><line x1="940" y1="650" x2="940" y2="758"/>
 <line x1="961.6" y1="650" x2="961.6" y2="758"/><line x1="983.2" y1="650" x2="983.2" y2="758"/><line x1="1004.8" y1="650" x2="1004.8" y2="758"/>
 <line x1="1026.4" y1="650" x2="1026.4" y2="758"/>
</g>
<path d="M818,688 L821,675 L823,670 L824,669 L825.5,671 L832,734 L833.5,733 L839,703 L844,673 L845.6,668 L847,670 L853.6,731 L855,730 L860.6,700 L865.6,671 L867.2,668 L868.6,670 L875.2,733 L876.7,732 L882.2,703 L887.2,673 L888.8,670 L890.2,672 L896.8,733 L898.3,732 L903.8,702 L908.8,671 L910.4,668 L911.8,670 L918.4,736 L919.9,735 L925.4,704 L930.4,673 L932,670 L933.4,672 L940,735 L941.5,734 L947,702 L952,667 L953.6,664 L955,666 L961.6,737 L963.1,736 L968.6,705 L973.6,675 L975.2,672 L976.6,674 L983.2,733 L984.7,732 L990.2,704 L995.2,676 L996.8,673 L998.2,675 L1004.8,735 L1006.3,734 L1011.8,704 L1016.8,675 L1018.4,672 L1019.8,674 L1026.4,736 L1027.9,735 L1034,697" fill="none" stroke="#e6228a" stroke-width="1.6" stroke-linejoin="round"/>
<rect x="818" y="650" width="216" height="108" fill="none" stroke="#333" stroke-width="1.2"/>
<g stroke="#333" stroke-width="1.2">
 <line x1="818" y1="677" x2="822" y2="677"/><line x1="818" y1="703" x2="822" y2="703"/><line x1="818" y1="731" x2="822" y2="731"/>
 <line x1="1034" y1="677" x2="1030" y2="677"/><line x1="1034" y1="703" x2="1030" y2="703"/><line x1="1034" y1="731" x2="1030" y2="731"/>
</g>
<text x="983" y="753" font-size="14">200Hz</text>
<text x="818" y="778" font-size="19" text-anchor="middle">0</text>
<text x="1034" y="778" font-size="19" text-anchor="middle">50</text>
<text x="927" y="785" font-size="19" text-anchor="middle">Time (ms)</text>
<text transform="translate(804,704) rotate(-90)" font-size="19" text-anchor="middle">Intensity (a.u.)</text>
</svg>
</body></html>
